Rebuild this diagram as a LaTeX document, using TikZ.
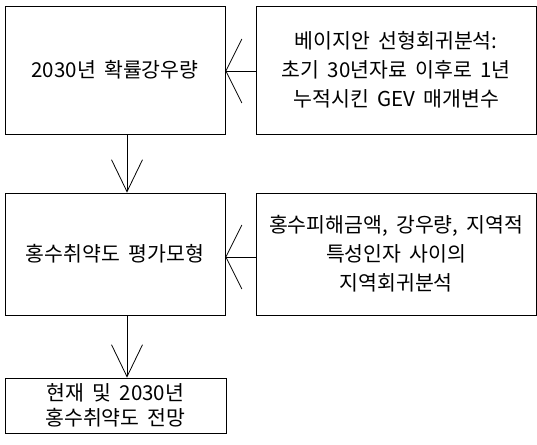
\documentclass[tikz,border=0pt]{standalone}
\usepackage{fontspec}
\setmainfont{Noto Sans CJK KR}[WordSpace=1.8]
\usetikzlibrary{arrows.meta}
\tikzset{
  box/.style={draw, line width=0.8pt, inner sep=0pt, align=center,
    font=\fontsize{20.5}{29}\selectfont},
  harrow/.style={line width=0.8pt, -{Straight Barb[length=16pt,width=64pt,line width=0.8pt]}},
  varrow/.style={line width=0.8pt, -{Straight Barb[length=32pt,width=31pt,line width=0.8pt]}}
}
\begin{document}
\begin{tikzpicture}[x=1pt,y=-1pt]
\useasboundingbox (0,0) rectangle (537,444);
\node[box, minimum width=220pt, minimum height=128pt] (A) at (115,70) {2030년 확률강우량};
\node[box, minimum width=280.5pt, minimum height=128pt] (B) at (396.25,70) {베이지안 선형회귀분석:\\초기 30년자료 이후로 1년\\누적시킨 GEV 매개변수};
\node[box, minimum width=220pt, minimum height=122pt] (C) at (115,254) {홍수취약도 평가모형};
\node[box, minimum width=280.5pt, minimum height=122pt] (D) at (396.25,254) {홍수피해금액, 강우량, 지역적\\특성인자 사이의\\지역회귀분석};
\node[box, minimum width=221pt, minimum height=55pt, font=\fontsize{20.5}{25}\selectfont] (E) at (115.5,405.5) {현재 및 2030년\\홍수취약도 전망};
\draw[harrow] (B.west |- 0,71) -- (A.east |- 0,71);
\draw[varrow] (A.south -| 127,0) -- (C.north -| 127,0);
\draw[harrow] (D.west |- 0,257) -- (C.east |- 0,257);
\draw[varrow] (C.south -| 127,0) -- (E.north -| 127,0);
\end{tikzpicture}
\end{document}
